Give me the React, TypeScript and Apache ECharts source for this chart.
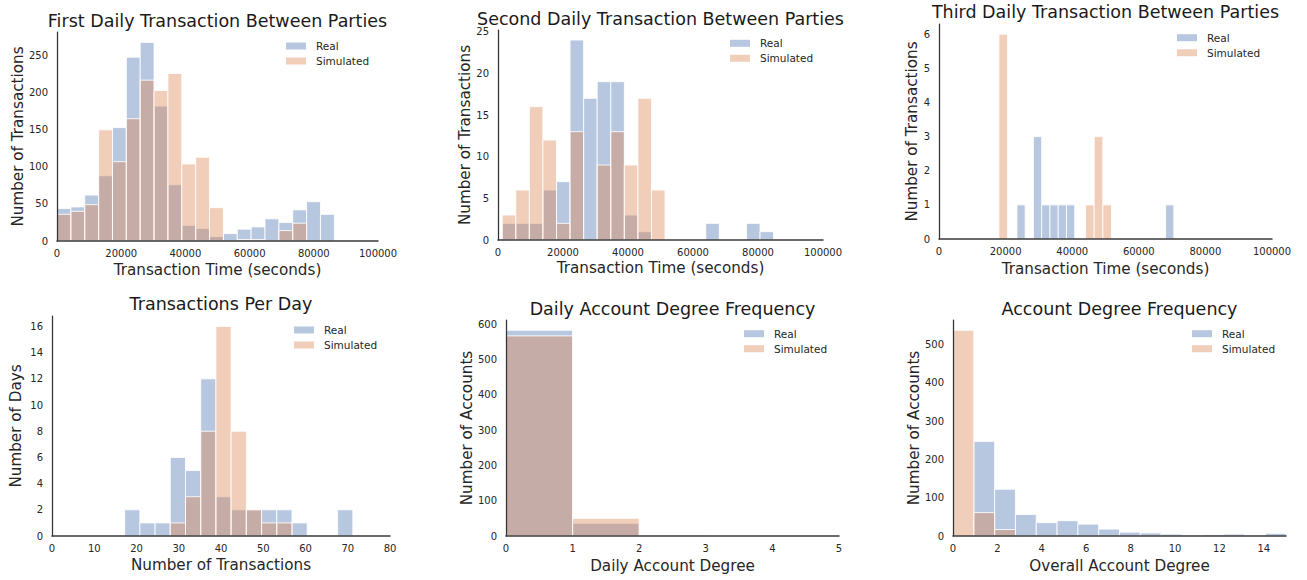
import React, { useEffect, useRef } from "react";
import * as echarts from "echarts";

const FONT = '"DejaVu Sans", Verdana, sans-serif';
const INK = "#262626";
const REAL_COLOR = "rgba(76,114,176,0.4)";
const SIM_COLOR = "rgba(221,132,82,0.4)";

// ---------- data ----------
const titles = [
  "First Daily Transaction Between Parties",
  "Second Daily Transaction Between Parties",
  "Third Daily Transaction Between Parties",
  "Transactions Per Day",
  "Daily Account Degree Frequency",
  "Account Degree Frequency",
];
const xLabels = [
  "Transaction Time (seconds)",
  "Transaction Time (seconds)",
  "Transaction Time (seconds)",
  "Number of Transactions",
  "Daily Account Degree",
  "Overall Account Degree",
];
const yLabels = [
  "Number of Transactions",
  "Number of Transactions",
  "Number of Transactions",
  "Number of Days",
  "Number of Accounts",
  "Number of Accounts",
];
const seriesNames = ["Real", "Simulated"];

// First daily transaction: bins of 4320 s from 0
const first_binStart = 0;
const first_binWidth = 4320;
const first_real = [44, 46, 62, 88, 153, 248, 268, 182, 76, 21, 17, 6, 10, 16, 19, 30, 25, 42, 53, 36];
const first_sim = [36, 40, 49, 150, 107, 165, 217, 203, 226, 104, 113, 45, 0, 2, 2, 0, 14, 24, 0, 0];

// Second daily transaction: bins of 4175 s from 1300
const second_binStart = 1300;
const second_binWidth = 4175;
const second_real = [2, 2, 2, 6, 7, 24, 17, 19, 19, 3, 1, 0, 0, 0, 0, 2, 0, 0, 2, 1];
const second_sim = [3, 6, 16, 12, 2, 13, 0, 9, 13, 9, 17, 6, 0, 0, 0, 0, 0, 0, 0, 0];

// Third daily transaction
const third_realStart = 23400;
const third_realWidth = 2480;
const third_real = [1, 0, 3, 1, 1, 1, 1, 0, 0, 0, 0, 0, 0, 0, 0, 0, 0, 0, 1];
const third_simStart = 18000;
const third_simWidth = 2600;
const third_sim = [6, 0, 0, 0, 0, 0, 0, 0, 0, 0, 1, 3, 1];

// Transactions per day: bins of 3.6 from 17.2
const perDay_binStart = 17.2;
const perDay_binWidth = 3.6;
const perDay_real = [2, 1, 1, 6, 5, 12, 3, 2, 2, 2, 2, 1, 0, 0, 2];
const perDay_sim = [0, 0, 0, 1, 3, 8, 16, 8, 2, 1, 1, 0, 0, 0, 0];

// Daily account degree: unit bins from 0
const daily_binStart = 0;
const daily_binWidth = 1;
const daily_real = [583, 36, 2];
const daily_sim = [567, 50, 2];

// Overall account degree: bins of 0.9375 from 0
const overall_binStart = 0;
const overall_binWidth = 0.9375;
const overall_real = [0, 247, 122, 56, 35, 40, 31, 18, 10, 8, 5, 2, 3, 5, 2, 7];
const overall_sim = [537, 61, 17];

// axis ranges / ticks
const xMins = [0, 0, 0, 0, 0, 0];
const xMaxs = [100000, 100000, 100000, 80, 5, 15];
const xSteps = [20000, 20000, 20000, 10, 1, 2];
const yMaxs = [282, 25.2, 6.3, 16.8, 612, 564];
const ySteps = [50, 5, 1, 2, 100, 100];

type Hist = { start: number; width: number; counts: number[] };
const hists: [Hist, Hist][] = [
  [
    { start: first_binStart, width: first_binWidth, counts: first_real },
    { start: first_binStart, width: first_binWidth, counts: first_sim },
  ],
  [
    { start: second_binStart, width: second_binWidth, counts: second_real },
    { start: second_binStart, width: second_binWidth, counts: second_sim },
  ],
  [
    { start: third_realStart, width: third_realWidth, counts: third_real },
    { start: third_simStart, width: third_simWidth, counts: third_sim },
  ],
  [
    { start: perDay_binStart, width: perDay_binWidth, counts: perDay_real },
    { start: perDay_binStart, width: perDay_binWidth, counts: perDay_sim },
  ],
  [
    { start: daily_binStart, width: daily_binWidth, counts: daily_real },
    { start: daily_binStart, width: daily_binWidth, counts: daily_sim },
  ],
  [
    { start: overall_binStart, width: overall_binWidth, counts: overall_real },
    { start: overall_binStart, width: overall_binWidth, counts: overall_sim },
  ],
];

// ---------- layout ----------
const grids = [
  { left: 57, top: 32, width: 321, height: 209 },
  { left: 498, top: 30, width: 325, height: 210 },
  { left: 939, top: 24, width: 333, height: 215 },
  { left: 52, top: 316, width: 338, height: 220 },
  { left: 506, top: 320, width: 333, height: 216 },
  { left: 953, top: 320, width: 333, height: 216 },
];
const titleY = [21, 18.5, 12, 303.5, 308.5, 308.5];
const yNameGaps = [32, 25, 19, 29, 32, 31];
const xNameGaps = [21, 20, 22, 21, 22, 22];
const legendPos = [
  { left: 286, top: 40 },
  { left: 730, top: 37.3 },
  { left: 1177, top: 31.7 },
  { left: 294, top: 324 },
  { left: 744, top: 327.7 },
  { left: 1192, top: 327.7 },
];

function toRects(h: Hist) {
  const out: number[][] = [];
  h.counts.forEach((c, i) => {
    if (c > 0) out.push([h.start + i * h.width, h.start + (i + 1) * h.width, c]);
  });
  return out;
}

function makeRender(color: string) {
  return (params: any, api: any) => {
    const x0 = api.value(0);
    const x1 = api.value(1);
    const y = api.value(2);
    const p0 = api.coord([x0, 0]);
    const p1 = api.coord([x1, y]);
    return {
      type: "rect",
      shape: { x: p0[0], y: p1[1], width: p1[0] - p0[0], height: p0[1] - p1[1] },
      style: { fill: color, stroke: "rgba(255,255,255,0.85)", lineWidth: 1 },
    };
  };
}

function tickFmt(step: number) {
  return (v: number) => {
    const r = v / step;
    return Math.abs(r - Math.round(r)) < 1e-6 ? String(Math.round(v * 1000) / 1000) : "";
  };
}

export default function App() {
  const ref = useRef<HTMLDivElement>(null);
  useEffect(() => {
    if (!ref.current) return;
    const chart = echarts.init(ref.current, undefined, { renderer: "svg" });
    const xAxis: any[] = [];
    const yAxis: any[] = [];
    const series: any[] = [];
    const legend: any[] = [];
    const graphic: any[] = [];
    grids.forEach((g, i) => {
      xAxis.push({
        type: "value",
        gridIndex: i,
        min: xMins[i],
        max: xMaxs[i],
        interval: xSteps[i],
        z: 5,
        splitLine: { show: false },
        axisTick: { show: false },
        axisLine: { show: true, onZero: false, lineStyle: { color: "#3a3a3a", width: 1.5 } },
        axisLabel: {
          color: INK,
          fontSize: 10,
          fontFamily: FONT,
          margin: 7,
          formatter: tickFmt(xSteps[i]),
        },
        name: xLabels[i],
        nameLocation: "middle",
        nameGap: xNameGaps[i],
        nameTextStyle: { color: INK, fontSize: 15.2, fontFamily: FONT },
      });
      yAxis.push({
        type: "value",
        gridIndex: i,
        min: 0,
        max: yMaxs[i],
        interval: ySteps[i],
        z: 5,
        splitLine: { show: false },
        axisTick: { show: false },
        axisLine: { show: true, lineStyle: { color: "#333333", width: 1.25 } },
        axisLabel: {
          color: INK,
          fontSize: 10,
          fontFamily: FONT,
          margin: 9,
          formatter: tickFmt(ySteps[i]),
        },
        name: yLabels[i],
        nameLocation: "middle",
        nameGap: yNameGaps[i],
        nameTextStyle: { color: INK, fontSize: 15.2, fontFamily: FONT },
      });
      const [real, sim] = hists[i];
      series.push({
        type: "custom",
        name: seriesNames[0],
        xAxisIndex: i,
        yAxisIndex: i,
        z: 2,
        itemStyle: { color: REAL_COLOR },
        renderItem: makeRender(REAL_COLOR),
        encode: { x: [0, 1], y: 2 },
        data: toRects(real),
      });
      series.push({
        type: "custom",
        name: seriesNames[1],
        xAxisIndex: i,
        yAxisIndex: i,
        z: 3,
        itemStyle: { color: SIM_COLOR },
        renderItem: makeRender(SIM_COLOR),
        encode: { x: [0, 1], y: 2 },
        data: toRects(sim),
      });
      legend.push({
        data: seriesNames,
        orient: "vertical",
        left: legendPos[i].left,
        top: legendPos[i].top,
        padding: 0,
        itemWidth: 20,
        itemHeight: 7,
        itemGap: 3,
        icon: "rect",
        selectedMode: false,
        formatter: (name: string) => `{a|${name}}`,
        textStyle: {
          color: INK,
          fontSize: 10.5,
          fontFamily: FONT,
          lineHeight: 12,
          rich: {
            a: { color: INK, fontSize: 10.5, fontFamily: FONT, lineHeight: 12, padding: [0, 0, 0, 5] },
          },
        },
      });
      graphic.push({
        type: "text",
        x: g.left + g.width / 2,
        y: titleY[i],
        style: {
          text: titles[i],
          fill: "#1a1a1a",
          font: `17.5px ${FONT}`,
          textAlign: "center",
          textVerticalAlign: "middle",
          align: "center",
          verticalAlign: "middle",
        },
      });
    });
    chart.setOption({
      animation: false,
      backgroundColor: "#ffffff",
      grid: grids.map((g) => ({ ...g, containLabel: false })),
      xAxis,
      yAxis,
      series,
      legend,
      graphic,
    });
    return () => chart.dispose();
  }, []);
  return (
    <div
      ref={ref}
      style={{ position: "fixed", left: 0, top: 0, width: 1307, height: 580, background: "#fff" }}
    />
  );
}
